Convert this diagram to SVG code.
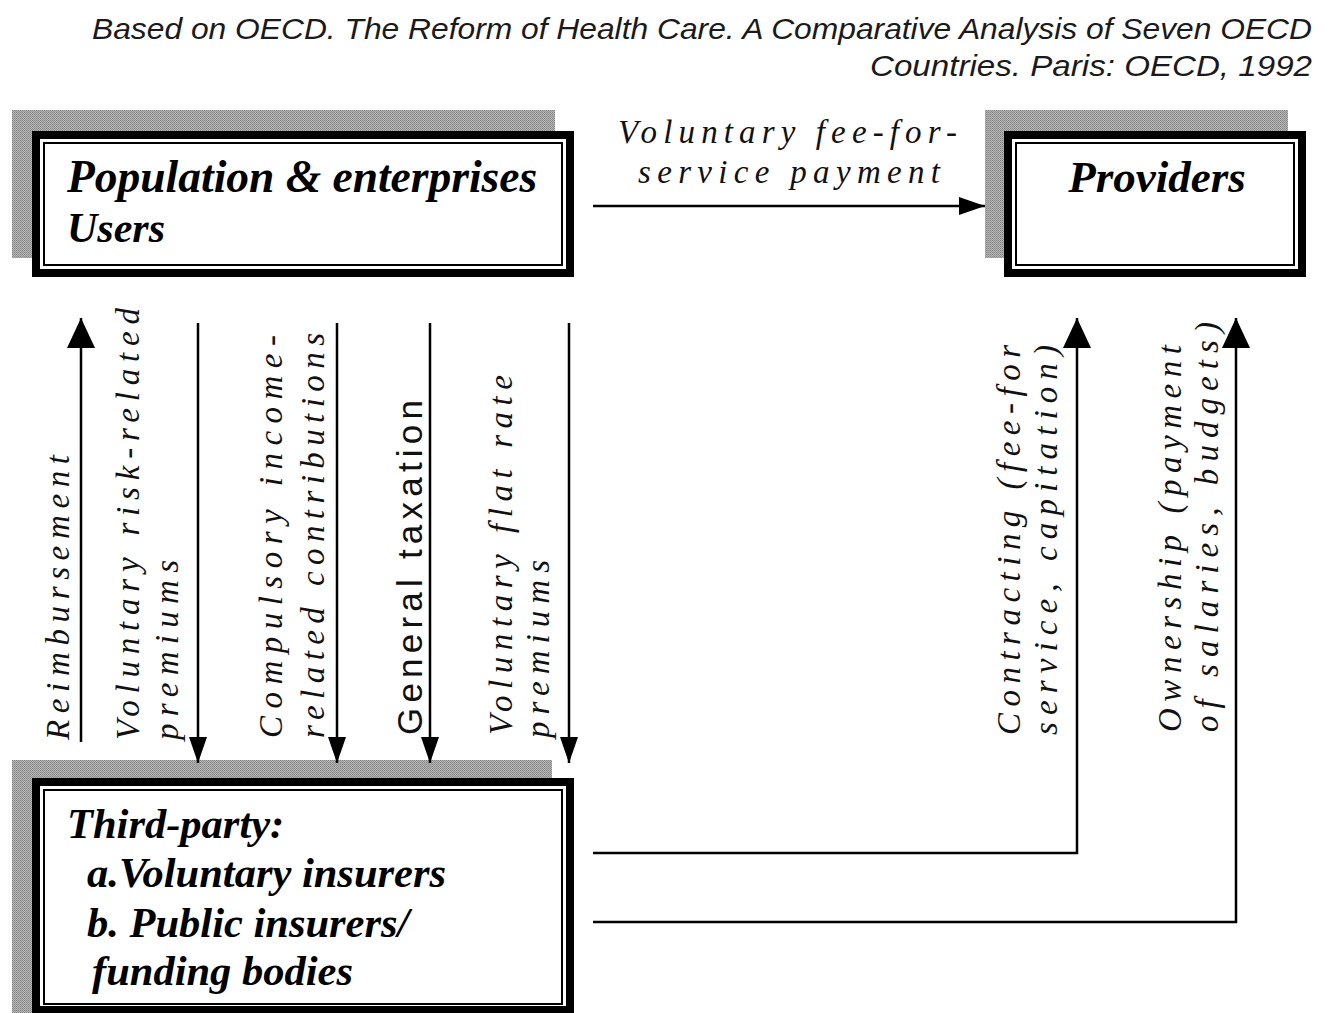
<svg xmlns="http://www.w3.org/2000/svg" width="1330" height="1013" viewBox="0 0 1330 1013">
  <style>
    .title { font-family: "Liberation Serif", "Times New Roman", serif; font-weight: bold; font-style: italic; fill: #000; }
    .flow { font-family: "Liberation Serif", "Times New Roman", serif; font-style: italic; font-size: 33px; fill: #111; }
    .flow-plain { font-family: "Liberation Sans", Arial, sans-serif; font-size: 35px; fill: #111; }
    .source { font-family: "Liberation Sans", Arial, sans-serif; font-style: italic; font-size: 29px; fill: #1a1a1a; }
    .line { fill: none; stroke: #000; stroke-width: 2.5; }
    .frame-outer { fill: #000; }
    .frame-gap { fill: #fff; }
    .frame-inner { fill: #fff; stroke: #000; stroke-width: 2; }
  </style>
  <defs>
    <!-- fine dithered grey used for the drop shadows -->
    <pattern id="grain" width="2" height="2" patternUnits="userSpaceOnUse">
      <rect width="2" height="2" fill="#b4b4b4"/>
      <rect width="1" height="1" fill="#858585"/>
      <rect x="1" y="1" width="1" height="1" fill="#969696"/>
    </pattern>
    <marker id="head-sm" markerUnits="userSpaceOnUse" markerWidth="26" markerHeight="18" viewBox="0 0 26 18" refX="26" refY="9" orient="auto">
      <path d="M0,0 L26,9 L0,18 Z" fill="#000"/>
    </marker>
    <marker id="head-lg" markerUnits="userSpaceOnUse" markerWidth="30" markerHeight="28" viewBox="0 0 30 28" refX="30" refY="14" orient="auto">
      <path d="M0,0 L30,14 L0,28 Z" fill="#000"/>
    </marker>
  </defs>

  <rect width="1330" height="1013" fill="#fff"/>

  <!-- source note -->
  <g id="source">
    <text class="source" x="1312" y="39" text-anchor="end" textLength="1220" lengthAdjust="spacingAndGlyphs">Based on OECD. The Reform of Health Care. A Comparative Analysis of Seven OECD</text>
    <text class="source" x="1312" y="76" text-anchor="end" textLength="442" lengthAdjust="spacingAndGlyphs">Countries. Paris: OECD, 1992</text>
  </g>

  <!-- Population & enterprises -->
  <g id="population">
    <rect x="12" y="110" width="543" height="148" fill="url(#grain)"/>
    <rect class="frame-outer" x="32" y="131" width="542" height="146"/>
    <rect class="frame-gap" x="40" y="139" width="526" height="130"/>
    <rect class="frame-inner" x="44" y="143" width="518" height="122"/>
    <text class="title" x="67" y="192" font-size="45.5">Population &amp; enterprises</text>
    <text class="title" x="67" y="242" font-size="42">Users</text>
  </g>

  <!-- Providers -->
  <g id="providers">
    <rect x="985" y="110" width="303" height="148" fill="url(#grain)"/>
    <rect class="frame-outer" x="1004" y="131" width="302" height="146"/>
    <rect class="frame-gap" x="1012" y="139" width="286" height="130"/>
    <rect class="frame-inner" x="1016" y="143" width="278" height="122"/>
    <text class="title" x="1157" y="192" font-size="45" text-anchor="middle">Providers</text>
  </g>

  <!-- Third-party -->
  <g id="third-party">
    <rect x="12" y="760" width="540" height="260" fill="url(#grain)"/>
    <rect class="frame-outer" x="32" y="778" width="542" height="245"/>
    <rect class="frame-gap" x="40" y="786" width="526" height="220"/>
    <rect class="frame-inner" x="44" y="790" width="518" height="214"/>
    <text class="title" x="67" y="838" font-size="42.5">Third-party:</text>
    <text class="title" x="87" y="887" font-size="42.5">a.Voluntary insurers</text>
    <text class="title" x="87" y="937" font-size="42.5">b. Public insurers/</text>
    <text class="title" x="92" y="985" font-size="42.5">funding bodies</text>
  </g>

  <!-- connectors -->
  <g id="connectors">
    <line class="line" x1="593" y1="206" x2="985" y2="206" marker-end="url(#head-sm)"/>
    <line class="line" x1="81" y1="742" x2="81" y2="318" marker-end="url(#head-lg)"/>
    <line class="line" x1="198" y1="323" x2="198" y2="763" marker-end="url(#head-sm)"/>
    <line class="line" x1="337" y1="323" x2="337" y2="763" marker-end="url(#head-sm)"/>
    <line class="line" x1="430" y1="323" x2="430" y2="763" marker-end="url(#head-sm)"/>
    <line class="line" x1="569" y1="323" x2="569" y2="763" marker-end="url(#head-sm)"/>
    <polyline class="line" points="593,853 1077,853 1077,318" marker-end="url(#head-lg)"/>
    <polyline class="line" points="593,922 1236,922 1236,318" marker-end="url(#head-lg)"/>
  </g>

  <!-- connector labels -->
  <g id="labels">
    <text class="flow" x="618" y="143" textLength="339" lengthAdjust="spacing">Voluntary fee-for-</text>
    <text class="flow" x="638" y="183" textLength="302" lengthAdjust="spacing">service payment</text>

    <text class="flow" transform="rotate(-90 69 740)" x="69" y="740" textLength="285" lengthAdjust="spacing">Reimbursement</text>
    <text class="flow" transform="rotate(-90 139 740)" x="139" y="740" textLength="432" lengthAdjust="spacing">Voluntary risk-related</text>
    <text class="flow" transform="rotate(-90 178 740)" x="178" y="740" textLength="180" lengthAdjust="spacing">premiums</text>
    <text class="flow" transform="rotate(-90 282 738)" x="282" y="738" textLength="403" lengthAdjust="spacing">Compulsory income-</text>
    <text class="flow" transform="rotate(-90 324 738)" x="324" y="738" textLength="405" lengthAdjust="spacing">related contributions</text>
    <text class="flow-plain" transform="rotate(-90 422 735)" x="422" y="735" textLength="335" lengthAdjust="spacing">General taxation</text>
    <text class="flow" transform="rotate(-90 512 735)" x="512" y="735" textLength="360" lengthAdjust="spacing">Voluntary flat rate</text>
    <text class="flow" transform="rotate(-90 549 738)" x="549" y="738" textLength="178" lengthAdjust="spacing">premiums</text>

    <text class="flow" transform="rotate(-90 1020 735)" x="1020" y="735" textLength="390" lengthAdjust="spacing">Contracting (fee-for</text>
    <text class="flow" transform="rotate(-90 1057 735)" x="1057" y="735" textLength="390" lengthAdjust="spacing">service, capitation)</text>
    <text class="flow" transform="rotate(-90 1181 732)" x="1181" y="732" textLength="387" lengthAdjust="spacing">Ownership (payment</text>
    <text class="flow" transform="rotate(-90 1218 732)" x="1218" y="732" textLength="410" lengthAdjust="spacing">of salaries, budgets)</text>
  </g>
</svg>
